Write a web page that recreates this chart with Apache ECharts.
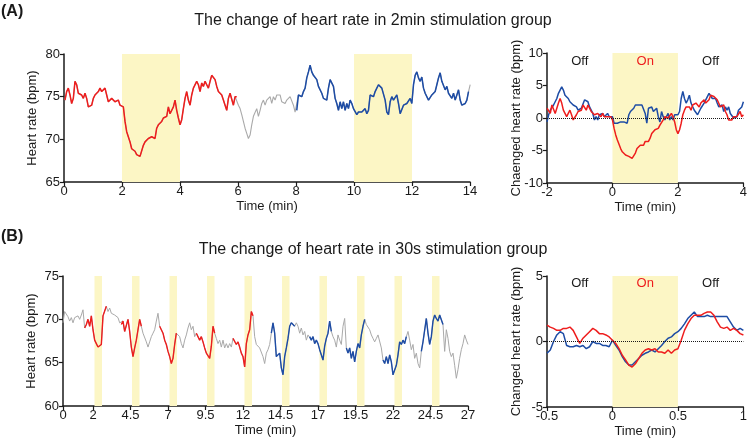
<!DOCTYPE html>
<html>
<head>
<meta charset="utf-8">
<script src="https://cdn.jsdelivr.net/npm/echarts@6/dist/echarts.min.js"></script>
<style>
  html, body { margin: 0; background: #fff; }
  #chart { width: 750px; height: 441px; }
</style>
</head>
<body>
<div id="chart"></div>
<script>
// ---- data ----
// (A) heart rate, 2min group: one sample every 0.0575 min starting at 0.034 min
const hrA_t0 = 0.034;
const hrA_dt = 0.0575;
const hrA = [
  74.6, 75.6, 76.0, 75.2, 74.2, 74.8, 76.8, 76.4, 75.4, 75.6,
  75.2, 74.8, 75.4, 74.8, 73.8, 73.8, 74.0, 74.8, 75.2, 75.4,
  75.6, 76.0, 75.6, 75.4, 76.0, 75.2, 74.4, 74.2, 74.8, 74.9,
  74.4, 74.2, 74.6, 74.0, 73.8, 73.8, 72.1, 70.9, 70.7, 69.7,
  68.9, 68.8, 68.6, 68.2, 68.4, 68.0, 68.2, 69.3, 69.7, 69.5,
  70.1, 70.3, 70.3, 70.5, 70.1, 71.3, 71.7, 71.5, 72.1, 72.5,
  72.3, 72.7, 73.8, 73.0, 72.8, 73.8, 74.6, 73.4, 72.5, 71.7,
  72.3, 73.6, 74.8, 75.6, 74.6, 74.0, 75.2, 76.0, 75.8, 76.8,
  76.4, 75.6, 76.6, 76.2, 76.8, 76.4, 76.0, 76.8, 77.5, 77.3,
  77.0, 76.2, 75.6, 75.6, 75.2, 74.6, 74.0, 73.4, 74.8, 75.4,
  75.4, 74.0, 75.0, 75.0, 74.0,
  73.6, 72.9, 72.1, 71.3, 70.7, 70.1, 70.5, 71.7, 72.7, 72.9,
  73.6, 72.7, 73.4, 74.2, 74.6, 74.0, 74.6, 74.8, 75.0,
  74.2, 75.0, 74.6, 75.2, 75.0, 75.2, 74.4, 74.6, 74.2, 74.6,
  74.6, 75.0, 74.8, 74.0, 73.2, 73.4,
  75.2, 75.4, 75.0, 75.6, 76.0, 77.2, 77.9, 78.7, 77.9, 77.5,
  77.3, 77.0, 76.2, 76.4, 75.4, 74.8, 74.8, 74.6, 76.0, 77.0,
  76.8, 76.2, 74.8, 74.2, 73.4, 74.4, 73.6, 74.4, 73.4, 74.2,
  73.6, 74.6, 74.2, 73.6, 73.8, 72.9, 73.2, 73.0, 73.2, 73.4,
  73.6, 73.0, 73.4, 75.2, 75.2, 75.0, 75.6, 76.0, 76.4, 76.2,
  76.0, 76.0, 74.6, 73.2, 72.9, 74.4, 75.0, 74.6, 74.6, 75.2,
  74.2, 73.0, 73.2, 74.0, 73.8, 74.2, 74.4, 74.8, 74.2, 76.4,
  77.5, 77.9, 77.2, 76.8, 77.3, 76.0, 75.4, 75.2, 74.6, 74.8,
  75.2, 75.4, 75.6, 76.4, 77.2, 77.8, 76.8, 76.6, 75.8, 76.2,
  75.4, 75.6, 74.8, 75.4, 74.6, 75.2, 75.8, 74.6, 74.0, 73.8,
  74.2, 74.6, 75.6, 76.4
];
const redRangesA = [[0, 6]];
const blueRangesA = [[8, 14]];
const bandsA = [[2, 4], [10, 12]];

// (A) changed heart rate, -2..4 min, step 0.05
const chgA_t0 = -2;
const chgA_dt = 0.05;
const chgA_red = [
  1.5, 1.7, 0.7, 2.0, 1.7, 0.7, 1.0, 2.3, 3.0, 2.3,
  1.2, 0.7, 0.2, 0.2, 1.2, 0.5, -0.3, -0.3, 0.5, 1.0,
  1.2, 1.2, 2.0, 1.7, 1.2, 2.0, 1.7, 1.0, 0.7, 0.5,
  0.2, 0.7, 0.5, 0.2, 0.7, 0.2, 0.5, 0.2, 0.5, 0.2,
  -0.3, -1.6, -2.6, -3.4, -3.6, -4.7, -5.2, -5.4, -5.7, -5.9,
  -5.9, -5.7, -6.2, -6.2, -5.4, -4.7, -4.4, -4.2, -3.9, -4.2,
  -3.6, -3.4, -3.6, -3.1, -2.4, -2.1, -1.8, -1.6, -1.6, -1.1,
  -0.8, -0.3, 0.2, 0.5, 0.0, 0.2, 0.7, 0.2, -0.6, -1.8,
  -2.4, -1.8, -0.8, 0.5, 1.2, 1.7, 2.0, 1.7, 1.2, 2.0,
  1.7, 2.3, 2.5, 1.7, 2.3, 2.5, 2.8, 2.3, 2.5, 2.8,
  3.5, 3.5, 3.3, 3.5, 2.8, 2.5, 1.7, 1.5, 2.0, 1.0,
  0.5, -0.3, -0.6, -0.3, 0.2, 0.0, 0.2, 0.5, 1.0, 0.2,
  0.5
];
const chgA_blue = [
  -0.6, 0.5, 1.2, 1.5, 2.0, 2.3, 3.0, 3.8, 4.1, 4.8,
  4.3, 3.5, 3.3, 3.0, 2.5, 2.5, 2.0, 2.3, 1.7, 1.2,
  1.0, 1.5, 1.7, 2.8, 3.0, 2.5, 1.7, 1.5, 0.7, -0.3,
  0.2, -0.3, 0.5, 0.2, 0.7, 0.2, 0.5, 0.7, 0.2, 0.5,
  0.2, -0.8, -1.1, -0.8, -0.8, -0.6, -0.3, -0.6, -0.3, -0.8,
  0.5, 1.0, 0.7, 1.5, 2.0, 2.3, 2.0, 1.7, 2.0, 1.7,
  0.7, -0.8, 1.5, 1.7, 1.7, 1.0, 0.7, 1.5, 0.2, -0.6,
  1.0, 0.2, -0.3, 0.0, 0.7, -0.3, 0.2, -0.3, 0.5, 0.7,
  0.5, 1.0, 3.0, 4.1, 3.0, 2.3, 2.8, 3.5, 2.3, 2.3,
  1.2, 1.2, 0.5, 1.0, 1.5, 1.7, 2.3, 2.8, 2.5, 3.8,
  3.5, 3.0, 2.8, 3.0, 2.3, 1.7, 1.5, 2.0, 1.0, 1.7,
  1.2, 1.7, 0.7, 0.5, 0.0, -0.3, 0.2, 1.2, 1.0, 1.7,
  2.5
];

// (B) heart rate, 30s group: one sample every 1/9 min from 0 to 27
const hrB_t0 = 0;
const hrB_dt = 1 / 9;
const hrB = [
  69.6, 70.9, 71.1, 70.3, 69.8, 70.2, 69.6, 70.2, 70.0, 70.4,
  70.0, 70.5, 71.1, 69.0, 69.4, 70.0, 69.2, 70.4, 68.8, 67.6,
  67.2, 66.8, 66.7, 67.1, 70.4, 70.5, 71.5, 70.9, 71.3, 70.7,
  70.9, 70.5, 70.4, 70.2, 69.6, 69.4, 69.8, 68.6, 68.8, 70.0,
  68.6, 66.8, 65.7, 66.7, 67.6, 67.4, 70.0, 69.2, 68.4, 68.6,
  67.4, 66.8, 67.4, 68.0, 68.4, 68.8, 69.8, 70.7, 69.2, 68.8,
  68.4, 67.6, 67.1, 66.3, 65.7, 64.9, 65.5, 67.1, 68.4, 68.2,
  68.0, 67.2, 66.7, 67.6, 68.2, 69.0, 69.6, 68.8, 69.2, 68.0,
  68.4, 68.4, 67.6, 68.0, 67.4, 66.7, 66.1, 65.9, 65.5, 66.9,
  69.2, 68.4, 67.8, 67.2, 67.6, 66.8, 67.6, 66.7, 67.2, 66.7,
  67.2, 66.8, 67.8, 67.6, 67.1, 67.4, 66.8, 66.1, 65.7, 64.5,
  67.2, 68.2, 68.8, 70.9, 70.4, 68.0, 67.1, 67.2, 66.7, 66.5,
  65.7, 64.9, 66.1, 66.5,
  67.1, 68.4, 69.6, 68.4, 65.7, 65.5, 66.1, 64.4, 63.6, 65.7,
  66.7, 67.8, 69.2, 69.6, 69.4, 69.2, 69.6, 69.2, 68.4, 69.0,
  68.2, 68.6, 67.6, 68.2, 68.0, 67.6, 68.0, 67.2, 67.6, 67.2,
  66.5, 66.7, 65.3, 66.9, 67.8, 68.4, 69.8, 68.6, 68.0, 67.6,
  66.8, 68.2, 67.6, 67.1, 69.2, 70.1, 66.7, 66.1, 66.7, 65.5,
  66.3, 65.1, 66.3, 67.2, 66.7, 68.2, 69.2, 70.0, 69.4, 69.2,
  68.8, 68.2, 67.8, 67.4, 67.8, 68.2, 68.0, 66.7, 65.3, 64.9,
  65.7, 64.9, 65.9, 65.1, 63.6, 63.4, 64.7, 65.9, 67.4, 67.1,
  67.6, 67.2, 68.0, 68.6, 67.6, 66.5, 67.1, 65.5, 66.1, 64.9,
  64.4, 66.3, 67.4, 67.2, 70.1, 68.4, 67.1, 68.0, 69.8, 70.5,
  70.1, 69.8, 70.5, 70.7, 69.4, 66.3, 68.8, 67.8, 66.3, 65.7,
  66.1, 64.7, 63.2, 64.2, 65.5, 66.5, 67.2, 68.2, 67.6, 67.1
];
const redRangesB = [[1.4, 2.95], [3.85, 5.28], [6.4, 7.62], [8.85, 10.15], [11.3, 12.72]];
const blueRangesB = [[13.85, 15.5], [16.4, 17.95], [18.85, 20.15], [21.3, 22.95], [23.85, 25.38]];
const bandStartsB = [2.1, 4.6, 7.1, 9.6, 12.1, 14.6, 17.1, 19.6, 22.1, 24.6];
const bandWidthB = 0.5;
const ticksB = [0, 2, 4.5, 7, 9.5, 12, 14.5, 17, 19.5, 22, 24.5, 27];

// (B) changed heart rate, -0.5..1 min, step 0.025
const chgB_t0 = -0.5;
const chgB_dt = 0.025;
const chgB_red = [
  1.25, 1.1, 1.0, 0.85, 0.85, 1.0, 1.0, 1.1, 0.85, 0.35,
  -0.15, 0.25, 0.5, 0.75, 1.0, 0.85, 0.6, 0.6, 0.5, 0.35,
  0.1, -0.15, -0.55, -1.05, -1.4, -1.8, -1.95, -1.7, -1.3, -0.9,
  -0.65, -0.55, -0.65, -0.55, -0.8, -0.8, -0.9, -0.65, -0.9, -0.65,
  -0.55, 0.1, 0.85, 1.35, 1.75, 2.0, 2.0, 2.0, 2.15, 2.25,
  2.25, 2.0, 1.5, 1.1, 1.0, 1.1, 0.85, 1.0, 0.85, 0.6,
  0.5
];
const chgB_blue = [
  -0.9, -0.65, 0.0, 0.5, 0.75, 0.6, -0.3, -0.4, -0.4, -0.3,
  -0.4, -0.3, -0.55, -0.4, 0.0, -0.15, -0.15, -0.3, -0.3, -0.4,
  0.1, -0.3, -0.65, -1.15, -1.55, -1.8, -1.8, -1.55, -1.3, -1.05,
  -0.9, -0.8, -0.65, -0.8, -0.55, -0.3, 0.0, 0.25, 0.35, 0.6,
  0.75, 1.0, 1.35, 1.75, 2.0, 2.25, 1.9, 1.9, 1.9, 2.0,
  1.9, 1.9, 1.9, 1.9, 1.9, 1.9, 1.5, 1.1, 0.85, 1.0,
  0.85
];

// ---- styling ----
const FONT = "'Liberation Sans', Arial, sans-serif";
const INK = "#1a1a1a";
const RED = "#ee1d1d";
const BLUE = "#1d4ca5";
const GRAY = "#a9a9a9";
const BAND = "#fcf6c5";

function points(values, t0, dt) {
  return values.map((v, i) => [+(t0 + i * dt).toFixed(4), v]);
}

function onlyIn(values, t0, dt, ranges) {
  return values.map((v, i) => {
    const t = t0 + i * dt;
    const inside = ranges.some((r) => t >= r[0] - 1e-6 && t <= r[1] + 1e-6);
    return [+t.toFixed(4), inside ? v : "-"];
  });
}

function xAxis(gridIndex, extra) {
  return Object.assign({
    type: "value",
    gridIndex,
    name: "Time (min)",
    nameLocation: "middle",
    nameGap: 18,
    nameMoveOverlap: false,
    nameTextStyle: { color: INK, fontSize: 13, fontFamily: FONT },
    axisLine: { onZero: false, lineStyle: { color: INK, width: 1.5 } },
    axisTick: { length: 4, lineStyle: { color: INK, width: 1.2 } },
    axisLabel: { color: INK, fontSize: 13, fontFamily: FONT, margin: 3 },
    splitLine: { show: false },
  }, extra);
}

function yAxis(gridIndex, name, extra) {
  return Object.assign({
    type: "value",
    gridIndex,
    name,
    nameLocation: "middle",
    nameGap: 25,
    nameMoveOverlap: false,
    nameTextStyle: { color: INK, fontSize: 13, fontFamily: FONT },
    axisLine: { show: true, onZero: false, lineStyle: { color: INK, width: 1.5 } },
    axisTick: { show: true, length: 4, lineStyle: { color: INK, width: 1.2 } },
    axisLabel: { color: INK, fontSize: 13, fontFamily: FONT, margin: 4 },
    splitLine: { show: false },
  }, extra);
}

function line(idx, data, color, width) {
  return {
    type: "line",
    xAxisIndex: idx,
    yAxisIndex: idx,
    data,
    showSymbol: false,
    symbol: "none",
    connectNulls: false,
    lineStyle: { color, width },
    silent: true,
  };
}

function bands(idx, areas, labels, dist) {
  return {
    type: "line",
    xAxisIndex: idx,
    yAxisIndex: idx,
    data: [],
    silent: true,
    markArea: {
      silent: true,
      data: areas.map((a, i) => [
        {
          xAxis: a[0],
          itemStyle: { color: labels && labels[i] !== "On" ? "rgba(0,0,0,0)" : BAND },
          label: labels
            ? {
                show: true,
                position: "insideTop",
                distance: dist,
                formatter: labels[i],
                color: labels[i] === "On" ? RED : INK,
                fontSize: 13,
                fontFamily: FONT,
              }
            : { show: false },
        },
        { xAxis: a[1] },
      ]),
    },
  };
}

function zeroLine(idx) {
  return {
    type: "line",
    xAxisIndex: idx,
    yAxisIndex: idx,
    data: [],
    silent: true,
    markLine: {
      silent: true,
      symbol: ["none", "none"],
      label: { show: false },
      lineStyle: { color: INK, type: "dotted", width: 1 },
      data: [{ yAxis: 0 }],
    },
  };
}

const chart = echarts.init(document.getElementById("chart"));

const option = {
  animation: false,
  backgroundColor: "#fff",
  textStyle: { fontFamily: FONT },
  graphic: [
    { type: "text", x: 1, y: 12, style: { text: "(A)", font: "bold 16px " + FONT, fill: INK, textVerticalAlign: "middle" } },
    { type: "text", x: 373, y: 21, style: { text: "The change of heart rate in 2min stimulation group", font: "16px " + FONT, fill: INK, textAlign: "center", textVerticalAlign: "middle" } },
    { type: "text", x: 1, y: 237, style: { text: "(B)", font: "bold 16px " + FONT, fill: INK, textVerticalAlign: "middle" } },
    { type: "text", x: 373, y: 250, style: { text: "The change of heart rate in 30s stimulation group", font: "16px " + FONT, fill: INK, textAlign: "center", textVerticalAlign: "middle" } },
  ],
  grid: [
    { left: 64, top: 54, width: 406, height: 128 },
    { left: 547, top: 53, width: 199, height: 130 },
    { left: 63, top: 276, width: 405, height: 130 },
    { left: 547, top: 276, width: 199, height: 131 },
  ],
  xAxis: [
    xAxis(0, { min: 0, max: 14, interval: 2 }),
    xAxis(1, { min: -2, max: 4, interval: 2 }),
    xAxis(2, {
      min: 0,
      max: 27,
      axisTick: { length: 4, customValues: ticksB, lineStyle: { color: INK, width: 1.2 } },
      axisLabel: { color: INK, fontSize: 13, fontFamily: FONT, margin: 3, customValues: ticksB },
    }),
    xAxis(3, { min: -0.5, max: 1, interval: 0.5 }),
  ],
  yAxis: [
    yAxis(0, "Heart rate (bpm)", { min: 65, max: 80, interval: 5 }),
    yAxis(1, "Chaenged heart rate (bpm)", { min: -10, max: 10, interval: 5, nameGap: 24 }),
    yAxis(2, "Heart rate (bpm)", { min: 60, max: 75, interval: 5 }),
    yAxis(3, "Changed heart rate (bpm)", { min: -5, max: 5, interval: 5, nameGap: 24 }),
  ],
  series: [
    // (A) left
    bands(0, bandsA, null, 0),
    line(0, points(hrA, hrA_t0, hrA_dt), GRAY, 1.1),
    line(0, onlyIn(hrA, hrA_t0, hrA_dt, redRangesA), RED, 1.5),
    line(0, onlyIn(hrA, hrA_t0, hrA_dt, blueRangesA), BLUE, 1.5),
    // (A) right
    bands(1, [[-2, 0], [0, 2], [2, 4]], ["Off", "On", "Off"], 2),
    zeroLine(1),
    line(1, points(chgA_blue, chgA_t0, chgA_dt), BLUE, 1.5),
    line(1, points(chgA_red, chgA_t0, chgA_dt), RED, 1.5),
    // (B) left
    bands(2, bandStartsB.map((s) => [s, s + bandWidthB]), null, 0),
    line(2, points(hrB, hrB_t0, hrB_dt), GRAY, 1),
    line(2, onlyIn(hrB, hrB_t0, hrB_dt, redRangesB), RED, 1.4),
    line(2, onlyIn(hrB, hrB_t0, hrB_dt, blueRangesB), BLUE, 1.4),
    // (B) right
    bands(3, [[-0.5, 0], [0, 0.5], [0.5, 1]], ["Off", "On", "Off"], 1),
    zeroLine(3),
    line(3, points(chgB_blue, chgB_t0, chgB_dt), BLUE, 1.5),
    line(3, points(chgB_red, chgB_t0, chgB_dt), RED, 1.5),
  ],
};

chart.setOption(option);
window.addEventListener("resize", () => chart.resize());
</script>
</body>
</html>
